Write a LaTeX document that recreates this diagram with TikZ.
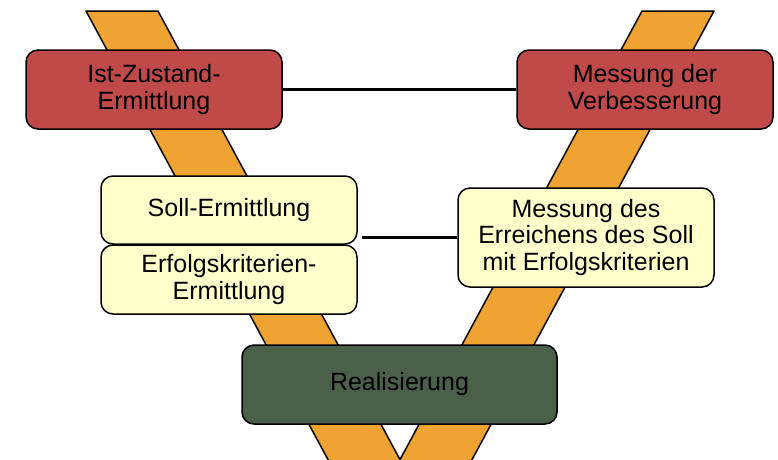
\documentclass[tikz,border=0pt]{standalone}
\usepackage{fontspec}
\setmainfont{Liberation Sans}
\usetikzlibrary{
    positioning,   % For relative placement of nodes
    calc           % For coordinate calculations
}
\definecolor{bandorange}{RGB}{238,163,51}
\definecolor{boxred}{RGB}{192,73,74}
\definecolor{boxyellow}{RGB}{255,255,204}
\definecolor{boxgreen}{RGB}{74,96,73}

\begin{document}
\begin{tikzpicture}[
    x=1pt, y=-1pt,
    font=\fontsize{25}{26.5}\selectfont,
    band/.style={fill=bandorange, draw=black, line width=1.5pt, line join=round},
    stagebox/.style={
        draw=black,
        line width=1.5pt,
        rounded corners=12pt,
        align=center,
        inner sep=0pt,
        minimum width=256pt
    },
    redbox/.style={stagebox, fill=boxred, minimum height=79pt},
    yellowbox/.style={stagebox, fill=boxyellow},
    greenbox/.style={stagebox, fill=boxgreen, minimum width=315pt, minimum height=79pt},
    link/.style={line width=3pt}
]
    \useasboundingbox (0,0) rectangle (778,459);

    % --- The V bands ---
    \begin{scope}
        \clip (0,0) rectangle (778,459);
        \draw[band] (86,11) -- (158,11) -- (411,480) -- (339,480) -- cycle;
        \draw[band] (714,11) -- (642,11) -- (389,480) -- (461,480) -- cycle;
    \end{scope}

    % --- Stage boxes ---
    \node[redbox] (istzustand) at (154,89.5) {Ist-Zustand-\\Ermittlung};
    \node[redbox] (verbesserung) at (645,89.5) {Messung der\\Verbesserung};
    \node[yellowbox, minimum height=68pt] (soll) at (229,210) {Soll-Ermittlung};
    \node[yellowbox, minimum height=69pt] (kriterien) at (229,279.5) {Erfolgskriterien-\\Ermittlung};
    \node[yellowbox, minimum height=99pt] (erreichen) at (586,237.5) {Messung des\\Erreichens des Soll\\mit Erfolgskriterien};
    \node[greenbox] (realisierung) at (399.5,384.5) {Realisierung};

    % --- Links between the two arms ---
    \draw[link] (istzustand.east) -- (verbesserung.west);
    \draw[link] (erreichen.west) -- ([xshift=4pt]soll.east |- erreichen.west);

\end{tikzpicture}
\end{document}
